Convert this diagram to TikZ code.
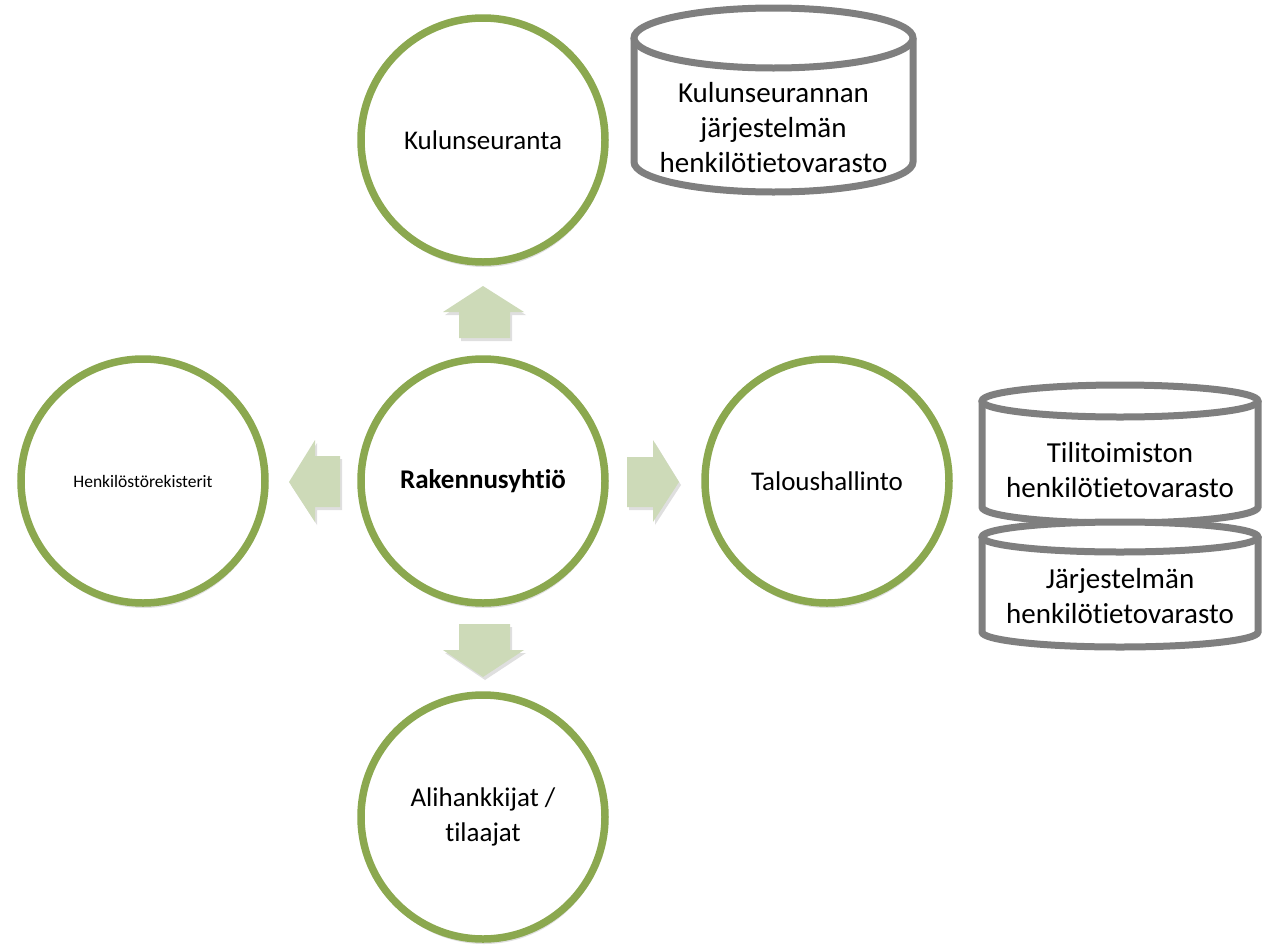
\documentclass[tikz,border=0pt]{standalone}
\usepackage{fontspec}
\setmainfont[Ligatures=NoCommon, Contextuals=NoAlternate]{Carlito}
\usetikzlibrary{shadows}
\definecolor{ringgreen}{HTML}{8BA84F}
\definecolor{arrowgreen}{HTML}{CDDAB8}
\definecolor{dbgray}{HTML}{7F7F7F}
\tikzset{
	ring/.style={circle, draw=ringgreen, line width=7.5pt, fill=white, minimum size=244pt, inner sep=0pt, align=center, font=\fontsize{27}{35}\selectfont, drop shadow={opacity=.25, shadow xshift=1pt, shadow yshift=-5pt}},
	blockarrow/.style={fill=arrowgreen, drop shadow={opacity=.25, shadow xshift=2pt, shadow yshift=-3pt}},
	dbline/.style={draw=dbgray, line width=7pt, fill=white},
	dbtext/.style={align=center, font=\fontsize{29}{35}\selectfont}
}
\begin{document}
\begin{tikzpicture}[x=1pt, y=-1pt]
	\useasboundingbox (0,0) rectangle (1270,948);
	
		% Circles
		\node[ring] (rakennus) at (483,481) {\textbf{Rakennusyhtiö}};
		\node[ring] (kulku) at (483,140) {Kulunseuranta};
		\node[ring, font=\fontsize{17.5}{22}\selectfont] (henkilo) at (143,481) {Henkilöstörekisterit};
		\node[ring] (talous) at (827,481) {Taloushallinto};
		\node[ring] (ali) at (483,817) {Alihankkijat /\\tilaajat};
		
		% Block arrows
		\fill[blockarrow] (483,286) -- (524,312) -- (510,312) -- (510,338) -- (459,338) -- (459,312) -- (443,312) -- cycle;
		\fill[blockarrow] (289,482) -- (315,440) -- (315,456) -- (340,456) -- (340,507) -- (315,507) -- (315,522) -- cycle;
		\fill[blockarrow] (679,482) -- (653,440) -- (653,457) -- (627,457) -- (627,507) -- (653,507) -- (653,522) -- cycle;
		\fill[blockarrow] (483,677) -- (524,650) -- (510,650) -- (510,624) -- (459,624) -- (459,650) -- (443,650) -- cycle;
		
		% Top store
		\draw[dbline] (634,38) -- (634,162) arc[start angle=180, end angle=360, x radius=139.5pt, y radius=30pt] -- (913,38);
		\draw[dbline] (773.5,38) ellipse[x radius=139.5pt, y radius=30pt];
		\node[dbtext] (kulkuvarasto) at (773.5,128) {Kulunseurannan\\järjestelmän\\henkilötietovarasto};
		
		% Right stores
		\draw[dbline] (982,401) -- (982,507) arc[start angle=180, end angle=360, x radius=138pt, y radius=16pt] -- (1258,401);
		\draw[dbline] (1120,401) ellipse[x radius=138pt, y radius=16pt];
		\node[dbtext] (tilivarasto) at (1120,470) {Tilitoimiston\\henkilötietovarasto};
		\draw[dbline] (982,537) -- (982,632) arc[start angle=180, end angle=360, x radius=138pt, y radius=15pt] -- (1258,537);
		\draw[dbline] (1120,537) ellipse[x radius=138pt, y radius=15pt];
		\node[dbtext] (jarjvarasto) at (1120,596) {Järjestelmän\\henkilötietovarasto};
		
\end{tikzpicture}
\end{document}
